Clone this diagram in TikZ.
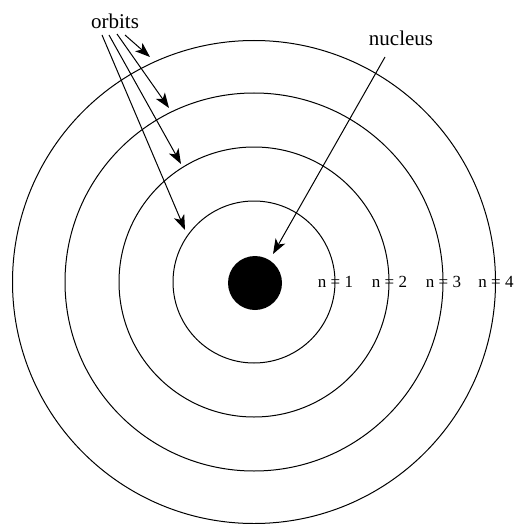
\documentclass[tikz,border=0pt]{standalone}
\usepackage{fontspec}
\setmainfont{Liberation Serif}
\usetikzlibrary{arrows.meta}
\begin{document}
\begin{tikzpicture}[x=1pt,y=-1pt,
  orbit/.style={circle,draw,line width=1pt,inner sep=0pt},
  lbl/.style={font=\fontsize{21}{24}\selectfont,inner sep=0pt,anchor=base},
  nlbl/.style={font=\fontsize{17}{20}\selectfont,inner sep=0pt},
  ptr/.style={line width=1pt,-{Stealth[length=15pt,width=11pt,inset=4pt]}}]
\useasboundingbox (0,0) rectangle (514,524);
\coordinate (O) at (254,282);
\node[orbit,minimum size=162pt] (c1) at (O) {};
\node[orbit,minimum size=270pt] (c2) at (O) {};
\node[orbit,minimum size=378pt] (c3) at (O) {};
\node[orbit,minimum size=483pt] (c4) at (O) {};
\node[circle,fill=black,minimum size=54pt,inner sep=0pt] (nuc) at (255,283) {};
\node[nlbl] (n1) at (c1.east) {n = 1};
\node[nlbl] (n2) at (c2.east) {n = 2};
\node[nlbl] (n3) at (c3.east) {n = 3};
\node[nlbl] (n4) at (c4.east) {n = 4};
\node[lbl] (orbits) at (115,29) {orbits};
\node[lbl] (nucleus) at (401,46) {nucleus};
\coordinate (o1) at (102,35);
\coordinate (o2) at (109,35);
\coordinate (o3) at (117,34);
\coordinate (o4) at (125,35);
\coordinate (t1) at (185,230);
\coordinate (t2) at (181,164);
\coordinate (t3) at (169,108);
\coordinate (t4) at (150,57);
\coordinate (ns) at (385,57);
\coordinate (nt) at (273,254);
\draw[ptr] (o1) -- (t1);
\draw[ptr] (o2) -- (t2);
\draw[ptr] (o3) -- (t3);
\draw[ptr] (o4) -- (t4);
\draw[ptr] (ns) -- (nt);
\end{tikzpicture}
\end{document}
